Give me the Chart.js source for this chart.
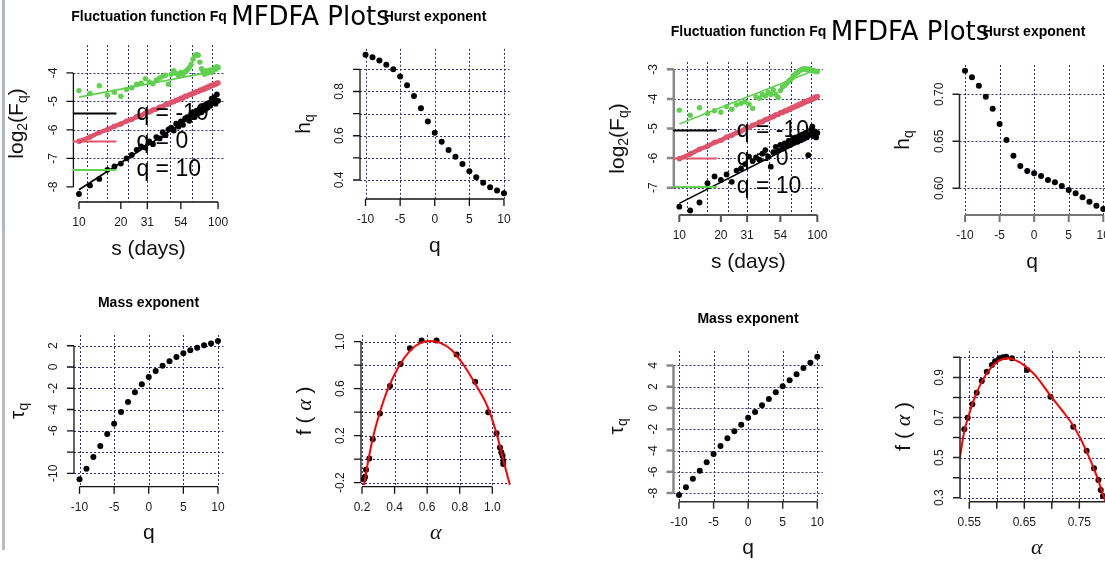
<!DOCTYPE html>
<html>
<head>
<meta charset="utf-8">
<title>MFDFA Plots</title>
<script src="https://cdn.jsdelivr.net/npm/chart.js@4.4.1/dist/chart.umd.min.js"></script>
<style>
  html, body { margin: 0; padding: 0; background: #fff; }
  #page { position: relative; width: 1105px; height: 565px; overflow: hidden; background: #fff; }
  #page canvas { position: absolute; left: 0; top: 0; }
  #edge { position: absolute; left: 2px; top: 0; width: 3px; height: 550px;
          background: linear-gradient(#aeb7cc 0, #aeb7cc 230px, #bdbdbd 230px, #bdbdbd 100%); }
</style>
</head>
<body>
<div id="page"><div id="edge"></div></div>
<script>
// scales (days) and q orders used by both figures
const scaleDays = [10, 12, 14, 16, 18, 20, 22, 24, 26, 28, 30, 32, 34, 36, 38, 40, 42, 44, 46, 48,
  50, 52, 54, 56, 58, 60, 62, 64, 66, 68, 70, 72, 74, 76, 78, 80, 82, 84, 86, 88, 90, 92, 94, 96, 98, 100];
const qValues = [-10, -9, -8, -7, -6, -5, -4, -3, -2, -1, 0, 1, 2, 3, 4, 5, 6, 7, 8, 9, 10];
const fitEnds = [10, 100];

// left figure: log2(Fq) for q = -10, 0, 10
const fqLeftNeg = [-8.25, -7.95, -7.72, -7.40, -7.28, -7.18, -7.00, -6.88, -6.70, -6.58, -6.62, -6.40, -6.50, -6.25, -6.30, -6.08,
  -6.18, -5.98, -5.92, -6.02, -5.78, -5.88, -5.70, -5.82, -5.60, -5.55, -5.68, -5.45, -5.38, -5.55, -5.32, -5.42, -5.25,
  -5.38, -5.18, -5.30, -5.10, -5.22, -5.05, -5.15, -4.90, -5.02, -4.85, -5.08, -4.75, -4.98];
const fqLeftZero = [-6.40, -6.25, -6.09, -5.99, -5.87, -5.79, -5.69, -5.63, -5.54, -5.49, -5.41, -5.37, -5.30, -5.27, -5.20, -5.18,
  -5.11, -5.09, -5.03, -5.01, -4.96, -4.94, -4.89, -4.88, -4.82, -4.81, -4.77, -4.76, -4.71, -4.70, -4.66, -4.65, -4.61,
  -4.60, -4.56, -4.56, -4.52, -4.52, -4.47, -4.47, -4.43, -4.43, -4.40, -4.40, -4.36, -4.35];
const fqLeftPos = [-4.62, -4.72, -4.45, -4.78, -4.68, -4.82, -4.58, -4.52, -4.40, -4.36, -4.20, -4.32, -4.38, -4.25, -4.18, -4.12,
  -4.08, -4.40, -4.05, -3.92, -4.02, -4.10, -3.98, -4.05, -3.96, -3.90, -3.82, -3.70, -3.52, -3.40, -3.35, -3.38, -3.62,
  -3.85, -3.95, -4.05, -3.92, -4.00, -3.95, -3.90, -3.98, -3.92, -3.85, -3.80, -3.78, -3.82];
const fitLeftNeg = [-8.10, -4.95];
const fitLeftZero = [-6.40, -4.35];
const fitLeftPos = [-4.85, -3.92];
const hurstLeft = [0.966, 0.955, 0.940, 0.921, 0.901, 0.868, 0.828, 0.780, 0.724, 0.664, 0.613, 0.573, 0.535, 0.505,
  0.472, 0.439, 0.412, 0.388, 0.367, 0.352, 0.340];
const tauLeft = [-10.57, -9.56, -8.47, -7.43, -6.30, -5.33, -4.23, -3.29, -2.38, -1.63, -0.94, -0.38, 0.12, 0.54, 0.94,
  1.29, 1.57, 1.82, 2.04, 2.20, 2.45];
const alphaLeft = [1.067, 1.067, 1.063, 1.055, 1.047, 1.026, 0.975, 0.895, 0.781, 0.658, 0.566, 0.494, 0.437, 0.372,
  0.310, 0.266, 0.245, 0.225, 0.218, 0.215, 0.212];
const fAlphaLeft = [-0.04, -0.01, 0.03, 0.06, 0.10, 0.22, 0.40, 0.66, 0.89, 1.01, 1.01, 0.944, 0.81, 0.623, 0.39, 0.169,
  0.007, -0.09, -0.15, -0.163, -0.17];
const curveAlphaLeft = [0.212, 0.24, 0.27, 0.31, 0.36, 0.43, 0.50, 0.56, 0.62, 0.68, 0.75, 0.82, 0.90, 0.97, 1.03, 1.07, 1.108];
const curveFLeft = [-0.22, 0.0, 0.2, 0.4, 0.6, 0.8, 0.93, 0.99, 1.005, 0.99, 0.93, 0.81, 0.63, 0.45, 0.20, -0.02, -0.22];

// right figure
const fqRightNeg = [-7.64, -7.77, -7.50, -6.85, -6.62, -6.74, -6.55, -6.80, -6.42, -6.35, -6.20, -5.95, -6.10, -5.98, -6.05,
  -5.85, -5.73, -5.95, -6.29, -5.80, -5.62, -5.75, -5.55, -5.68, -5.50, -5.60, -5.42, -5.55, -5.38, -5.48, -5.30, -5.45,
  -5.25, -5.40, -5.20, -5.35, -5.15, -5.30, -5.90, -5.20, -5.05, -4.94, -5.25, -5.10, -5.30, -5.15];
const fqRightZero = [-6.02, -5.86, -5.70, -5.60, -5.47, -5.40, -5.29, -5.23, -5.14, -5.09, -5.01, -4.97, -4.89, -4.86, -4.79,
  -4.77, -4.70, -4.68, -4.62, -4.60, -4.54, -4.53, -4.47, -4.46, -4.41, -4.40, -4.35, -4.34, -4.29, -4.28, -4.24, -4.23,
  -4.18, -4.18, -4.14, -4.13, -4.09, -4.09, -4.05, -4.05, -4.01, -4.01, -3.97, -3.97, -3.93, -3.92];
const fqRightPos = [-4.38, -4.55, -4.30, -4.49, -4.40, -4.45, -4.26, -4.35, -4.20, -4.15, -4.10, -4.18, -4.32, -3.93, -3.98,
  -3.85, -3.90, -3.78, -3.85, -3.70, -3.85, -3.95, -3.72, -3.60, -3.55, -3.47, -3.40, -3.35, -3.28, -3.20, -3.14, -3.10,
  -3.05, -3.02, -3.00, -2.98, -3.00, -2.99, -3.02, -3.00, -3.03, -3.05, -3.04, -3.06, -3.07, -3.08];
const fitRightNeg = [-7.53, -5.16];
const fitRightZero = [-6.02, -3.92];
const fitRightPos = [-4.85, -3.00];
const hurstRight = [0.7251, 0.7181, 0.7092, 0.6974, 0.6847, 0.6684, 0.6514, 0.6347, 0.6237, 0.6184, 0.6160, 0.6131,
  0.6088, 0.6064, 0.6024, 0.5982, 0.5947, 0.5904, 0.5857, 0.5815, 0.5780];
const tauRight = [-8.18, -7.46, -6.65, -5.90, -5.11, -4.33, -3.57, -2.85, -2.19, -1.57, -0.91, -0.38, 0.25, 0.85, 1.47,
  2.04, 2.60, 3.17, 3.76, 4.26, 4.83];
const alphaRight = [0.799, 0.793, 0.789, 0.7847, 0.7767, 0.7633, 0.739, 0.6975, 0.655, 0.6275, 0.617, 0.611, 0.6049,
  0.597, 0.591, 0.5818, 0.5727, 0.5635, 0.5555, 0.547, 0.5409];
const fAlphaRight = [0.27, 0.308, 0.338, 0.388, 0.447, 0.534, 0.654, 0.804, 0.937, 0.995, 1.003, 1.0, 0.995, 0.981,
  0.962, 0.928, 0.882, 0.823, 0.766, 0.699, 0.641];
const curveAlphaRight = [0.533, 0.54, 0.55, 0.56, 0.575, 0.59, 0.605, 0.618, 0.63, 0.65, 0.67, 0.70, 0.72, 0.74, 0.76, 0.78, 0.80];
const curveFRight = [0.50, 0.62, 0.72, 0.80, 0.89, 0.95, 0.985, 0.995, 0.99, 0.96, 0.91, 0.80, 0.73, 0.655, 0.55, 0.42, 0.26];

// tick values and labels
const sTicks = [10, 20, 31, 54, 100];
const sGrid = [11.4, 16, 22.6, 31, 45, 64.5, 90];
const qTicks = [-10, -5, 0, 5, 10];
const legendNames = ['q = -10', 'q = 0', 'q = 10'];

const W = 1105, H = 565;
const RED = '#DF536B', GREEN = '#61D04F', GRIDC = '#2e2e8a';
const SANS = '"Liberation Sans", Arial, sans-serif';
const F21 = '21px ' + SANS, F14 = '14px ' + SANS, GREEK = 'italic 22px "Liberation Serif", serif';

const pair = (xs, ys) => xs.map((v, i) => ({ x: v, y: ys[i] }));
const txt = t => [{ t, f: F21 }];
const subLab = (a, b) => [{ t: a, f: F21 }, { t: b, f: F14, dy: 6 }];
const logFLab = [{ t: 'log', f: F21 }, { t: '2', f: F14, dy: 6 }, { t: '(F', f: F21 }, { t: 'q', f: F14, dy: 6 }, { t: ')', f: F21 }];
const fAlphaLab = [{ t: 'f ( ', f: F21 }, { t: 'α', f: GREEK }, { t: ' )', f: F21 }];
const alphaLab = [{ t: 'α', f: GREEK }];
const str = a => a.map(v => String(v));

function dots(data, color, r) {
  return { data, showLine: false, pointRadius: r, pointHoverRadius: r, backgroundColor: color, pointBorderWidth: 0 };
}
function curve(data, color, w, smooth) {
  return { data, showLine: true, pointRadius: 0, borderColor: color, borderWidth: w,
    tension: smooth ? 0.4 : 0, cubicInterpolationMode: smooth ? 'monotone' : 'default' };
}
function fluctSets(neg, zero, pos, fNeg, fZero, fPos) {
  const band = dots(pair(scaleDays, zero), RED, 2.7);
  band.showLine = true; band.borderColor = RED; band.borderWidth = 4.5;
  return [
    dots(pair(scaleDays, neg), '#000', 2.9),
    curve(pair(fitEnds, fNeg), '#000', 1.6),
    band,
    curve(pair(fitEnds, fZero), RED, 2),
    dots(pair(scaleDays, pos), GREEN, 2.7),
    curve(pair(fitEnds, fPos), GREEN, 1.6)
  ];
}

function rich(ctx, parts, x, y, rotated) {
  ctx.save();
  ctx.translate(x, y);
  if (rotated) ctx.rotate(-Math.PI / 2);
  ctx.textAlign = 'left';
  ctx.textBaseline = 'middle';
  let w = 0;
  parts.forEach(p => { ctx.font = p.f; w += ctx.measureText(p.t).width; });
  let cx = -w / 2;
  parts.forEach(p => {
    ctx.font = p.f;
    ctx.fillText(p.t, cx, p.dy || 0);
    cx += ctx.measureText(p.t).width;
  });
  ctx.restore();
}

const specs = new WeakMap();

// R-like base graphics: dotted grid, offset axes, rotated y labels, titles, legend
const rPlot = {
  id: 'rPlot',
  beforeDatasetsDraw(chart) {
    const s = specs.get(chart.canvas), a = chart.chartArea, ctx = chart.ctx;
    const x = chart.scales.x, y = chart.scales.y;
    ctx.save();
    ctx.strokeStyle = GRIDC;
    ctx.lineWidth = 1;
    ctx.setLineDash([2, 2]);
    ctx.beginPath();
    s.gridX.forEach(v => {
      const p = Math.round(x.getPixelForValue(v)) + 0.5;
      ctx.moveTo(p, a.top); ctx.lineTo(p, a.bottom);
    });
    s.gridY.forEach(v => {
      const p = Math.round(y.getPixelForValue(v)) + 0.5;
      ctx.moveTo(a.left, p); ctx.lineTo(a.right, p);
    });
    ctx.stroke();
    ctx.restore();
  },
  afterDraw(chart) {
    const s = specs.get(chart.canvas), a = chart.chartArea, ctx = chart.ctx;
    const x = chart.scales.x, y = chart.scales.y;
    ctx.save();
    ctx.setLineDash([]);
    ctx.fillStyle = '#1a1a1a';

    // x axis
    const xp = s.xTicks.map(v => x.getPixelForValue(v));
    ctx.strokeStyle = s.axX[0];
    ctx.lineWidth = s.axX[1];
    ctx.beginPath();
    ctx.moveTo(xp[0], a.bottom);
    ctx.lineTo(xp[xp.length - 1], a.bottom);
    xp.forEach(p => { ctx.moveTo(p, a.bottom); ctx.lineTo(p, a.bottom + 7); });
    ctx.stroke();
    ctx.font = '12px ' + SANS;
    ctx.textAlign = 'center';
    ctx.textBaseline = 'middle';
    xp.forEach((p, i) => { if (s.xLabels[i]) ctx.fillText(s.xLabels[i], p, a.bottom + 21); });

    // y axis
    const yp = s.yTicks.map(v => y.getPixelForValue(v));
    ctx.strokeStyle = s.axY[0];
    ctx.lineWidth = s.axY[1];
    ctx.beginPath();
    ctx.moveTo(a.left, yp[0]);
    ctx.lineTo(a.left, yp[yp.length - 1]);
    yp.forEach(p => { ctx.moveTo(a.left, p); ctx.lineTo(a.left - 7, p); });
    ctx.stroke();
    yp.forEach((p, i) => {
      if (!s.yLabels[i]) return;
      ctx.save();
      ctx.translate(a.left - 20, p);
      ctx.rotate(-Math.PI / 2);
      ctx.fillText(s.yLabels[i], 0, 0);
      ctx.restore();
    });

    // axis titles
    ctx.fillStyle = '#111';
    rich(ctx, s.xlab, s.xlabX || (a.left + a.right) / 2, a.bottom + 47, false);
    rich(ctx, s.ylab, a.left - 56, (a.top + a.bottom) / 2, true);

    // legend inside the fluctuation panels
    if (s.legend) {
      const colors = ['#000', RED, GREEN];
      const rows = [68.5, 96.5, 125];
      rows.forEach((r, i) => {
        const yy = a.top + r;
        ctx.strokeStyle = colors[i];
        ctx.lineWidth = 2;
        ctx.beginPath();
        ctx.moveTo(a.left - 0.5, yy);
        ctx.lineTo(a.left + 43, yy);
        ctx.stroke();
        ctx.fillStyle = '#000';
        ctx.font = '23px ' + SANS;
        ctx.textAlign = 'left';
        ctx.textBaseline = 'middle';
        ctx.fillText(legendNames[i], a.left + 63, yy);
      });
    }

    // panel title
    ctx.fillStyle = '#000';
    ctx.textAlign = 'center';
    ctx.textBaseline = 'middle';
    if (s.title) {
      ctx.font = 'bold 14px ' + SANS;
      ctx.fillText(s.title, s.titleAt[0], s.titleAt[1]);
    }
    if (s.main) {
      ctx.font = '26px "DejaVu Sans", sans-serif';
      ctx.fillText('MFDFA Plots', s.main[0], s.main[1]);
    }
    ctx.restore();
  }
};

const left = { axX: ['#111', 1.3], axY: ['#111', 1.3] };
const panels = [
  Object.assign({
    box: [73.4, 223.6, 45, 202], xType: 'logarithmic', xr: [9.12, 109.6], yr: [-8.53, -3.02],
    xTicks: sTicks, xLabels: str(sTicks), yTicks: [-8, -7, -6, -5, -4], yLabels: ['-8', '-7', '-6', '-5', '-4'],
    gridX: sGrid, gridY: [-7, -6, -5, -4],
    title: 'Fluctuation function Fq', titleAt: [149, 17], main: [310.5, 18.5],
    xlab: txt('s (days)'), ylab: logFLab, legend: true,
    datasets: fluctSets(fqLeftNeg, fqLeftZero, fqLeftPos, fitLeftNeg, fitLeftZero, fitLeftPos)
  }, left),
  Object.assign({
    box: [360, 509.5, 48.8, 199], xr: [-10.8, 10.8], yr: [0.314, 0.993],
    xTicks: qTicks, xLabels: str(qTicks), yTicks: [0.4, 0.5, 0.6, 0.7, 0.8, 0.9], yLabels: ['0.4', '', '0.6', '', '0.8', ''],
    gridX: qTicks, gridY: [0.4, 0.5, 0.6, 0.7, 0.8, 0.9],
    title: 'Hurst exponent', titleAt: [435, 17],
    xlab: txt('q'), ylab: subLab('h', 'q'),
    datasets: [dots(pair(qValues, hurstLeft), '#000', 3)]
  }, left),
  Object.assign({
    box: [74, 223.5, 335, 486.7], xr: [-10.8, 10.8], yr: [-11.26, 3.01],
    xTicks: qTicks, xLabels: str(qTicks), yTicks: [-10, -8, -6, -4, -2, 0, 2], yLabels: ['-10', '', '-6', '-4', '-2', '0', '2'],
    gridX: qTicks, gridY: [-10, -8, -6, -4, -2, 0, 2],
    title: 'Mass exponent', titleAt: [148.5, 303],
    xlab: txt('q'), ylab: subLab('τ', 'q'),
    datasets: [dots(pair(qValues, tauLeft), '#000', 3)]
  }, left),
  Object.assign({
    box: [361, 510.5, 335, 486.7], xr: [0.1939, 1.1117], yr: [-0.234, 1.057],
    xTicks: [0.2, 0.4, 0.6, 0.8, 1.0], xLabels: ['0.2', '0.4', '0.6', '0.8', '1.0'],
    yTicks: [-0.2, 0, 0.2, 0.4, 0.6, 0.8, 1.0], yLabels: ['-0.2', '', '0.2', '', '0.6', '', '1.0'],
    gridX: [0.2, 0.4, 0.6, 0.8, 1.0], gridY: [-0.2, 0, 0.2, 0.4, 0.6, 0.8, 1.0],
    xlab: alphaLab, ylab: fAlphaLab,
    datasets: [curve(pair(curveAlphaLeft, curveFLeft), '#FF0000', 2, true), dots(pair(alphaLeft, fAlphaLeft), '#000', 3)]
  }, left),
  {
    box: [673.8, 822.8, 62, 215], xType: 'logarithmic', xr: [9.12, 109.6], yr: [-7.922, -2.753],
    xTicks: sTicks, xLabels: str(sTicks), yTicks: [-7, -6, -5, -4, -3], yLabels: ['-7', '-6', '-5', '-4', '-3'],
    gridX: sGrid, gridY: [-7, -6, -5, -4, -3],
    title: 'Fluctuation function Fq', titleAt: [748.5, 32.5], main: [910, 33.5],
    xlab: txt('s (days)'), ylab: logFLab, legend: true, axX: ['#555', 2], axY: ['#888', 2.5],
    datasets: fluctSets(fqRightNeg, fqRightZero, fqRightPos, fitRightNeg, fitRightZero, fitRightPos)
  },
  {
    box: [959.5, 1105, 65, 215], xr: [-10.8, 10.25], yr: [0.5716, 0.7312],
    xTicks: qTicks, xLabels: str(qTicks), yTicks: [0.60, 0.65, 0.70], yLabels: ['0.60', '0.65', '0.70'],
    gridX: qTicks, gridY: [0.60, 0.65, 0.70],
    title: 'Hurst exponent', titleAt: [1034, 32.5], xlabX: 1032,
    xlab: txt('q'), ylab: subLab('h', 'q'), axX: ['#777', 2], axY: ['#222', 1.5],
    datasets: [dots(pair(qValues, hurstRight), '#000', 3)]
  },
  {
    box: [673.5, 822.8, 351, 501.7], xr: [-10.8, 10.8], yr: [-8.81, 5.36],
    xTicks: qTicks, xLabels: str(qTicks), yTicks: [-8, -6, -4, -2, 0, 2, 4], yLabels: ['-8', '-6', '-4', '-2', '0', '2', '4'],
    gridX: qTicks, gridY: [-8, -6, -4, -2, 0, 2, 4],
    title: 'Mass exponent', titleAt: [748, 319.5],
    xlab: txt('q'), ylab: subLab('τ', 'q'), axX: ['#333', 1.5], axY: ['#888', 2.5],
    datasets: [dots(pair(qValues, tauRight), '#000', 3)]
  },
  {
    box: [960, 1105, 351, 501.7], xr: [0.5331, 0.7967], yr: [0.280, 1.0316],
    xTicks: [0.55, 0.60, 0.65, 0.70, 0.75, 0.80], xLabels: ['0.55', '', '0.65', '', '0.75', ''],
    yTicks: [0.3, 0.4, 0.5, 0.6, 0.7, 0.8, 0.9, 1.0], yLabels: ['0.3', '', '0.5', '', '0.7', '', '0.9', ''],
    gridX: [0.55, 0.60, 0.65, 0.70, 0.75], gridY: [0.3, 0.4, 0.5, 0.6, 0.7, 0.8, 0.9, 1.0],
    xlabX: 1036.7, xlab: alphaLab, ylab: fAlphaLab, axX: ['#222', 1.5], axY: ['#222', 1.5],
    datasets: [curve(pair(curveAlphaRight, curveFRight), '#FF0000', 2, true), dots(pair(alphaRight, fAlphaRight), '#000', 3)]
  }
];

const page = document.getElementById('page');
panels.forEach(p => {
  const cv = document.createElement('canvas');
  cv.width = W;
  cv.height = H;
  page.appendChild(cv);
  specs.set(cv, p);
  const [l, r, t, b] = p.box;
  new Chart(cv, {
    type: 'scatter',
    data: { datasets: p.datasets },
    options: {
      responsive: false,
      animation: false,
      devicePixelRatio: 1,
      events: [],
      layout: { padding: { left: l, right: W - r, top: t, bottom: H - b }, autoPadding: false },
      scales: {
        x: { type: p.xType || 'linear', display: false, min: p.xr[0], max: p.xr[1], bounds: 'data' },
        y: { type: 'linear', display: false, min: p.yr[0], max: p.yr[1], bounds: 'data' }
      },
      plugins: { legend: { display: false }, tooltip: { enabled: false } }
    },
    plugins: [rPlot]
  });
});
</script>
</body>
</html>
